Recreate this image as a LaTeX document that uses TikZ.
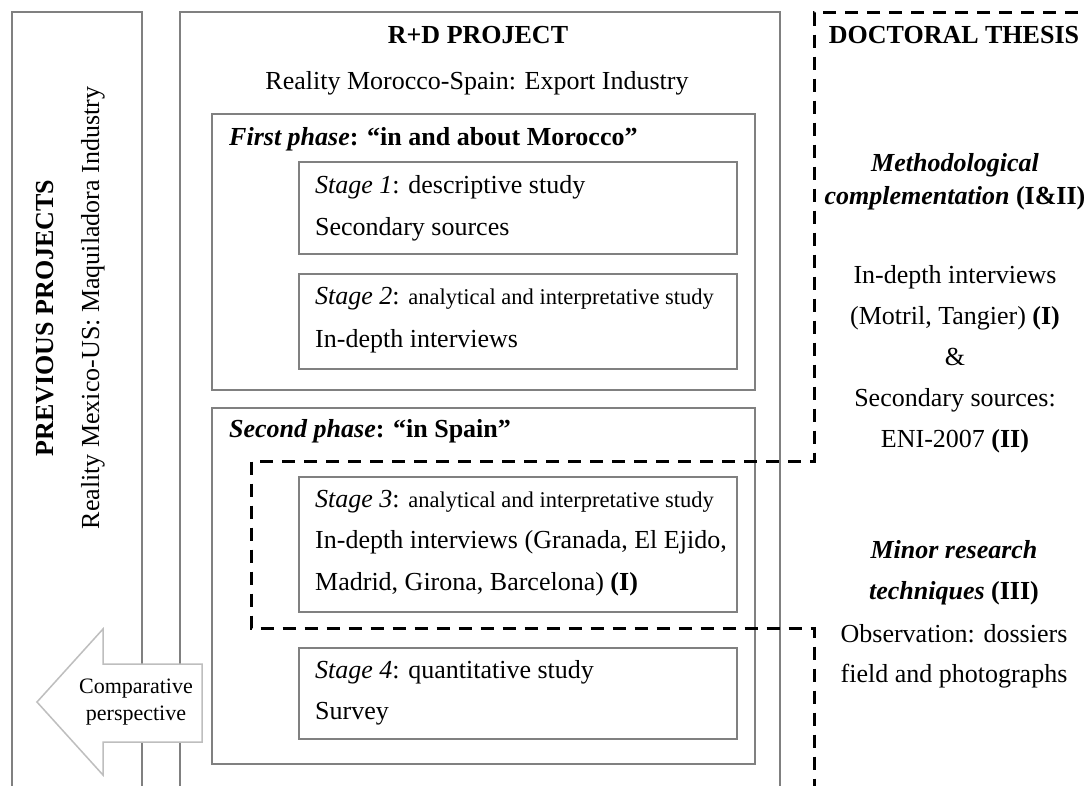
\documentclass[tikz,border=0pt]{standalone}
\usepackage{fontspec}
\setmainfont{Liberation Serif}
\definecolor{boxgray}{RGB}{128,128,128}
\definecolor{arrgray}{RGB}{190,190,190}
\newcommand{\fsmain}{\fontsize{26}{31}\selectfont}
\newcommand{\fssmall}{\fontsize{22.5}{27}\selectfont}
\begin{document}
\begin{tikzpicture}[x=1pt,y=-1pt,
  boxline/.style={draw=boxgray,line width=1.5pt,inner sep=0pt,outer sep=0pt,anchor=north west},
  dashline/.style={draw=black,line width=3pt,dash pattern=on 13pt off 9pt},
  lefttxt/.style={anchor=base west,inner sep=0pt,font=\fsmain},
  midtxt/.style={anchor=base,inner sep=0pt,font=\fsmain},
  smalltxt/.style={anchor=base,inner sep=0pt,font=\fontsize{22}{27}\selectfont,align=center}]
\clip (0,0) rectangle (1085,785);
\fill[white] (0,0) rectangle (1085,785);
% solid boxes
\node[boxline,minimum width=130pt,minimum height=800pt] (prevbox) at (12,12) {};
\node[boxline,minimum width=600pt,minimum height=800pt] (rdbox) at (180,12) {};
\node[boxline,minimum width=543pt,minimum height=276pt] (phaseone) at (212,114) {};
\node[boxline,minimum width=543pt,minimum height=356pt] (phasetwo) at (212,408) {};
\node[boxline,minimum width=438pt,minimum height=92pt] (stageone) at (299,162) {};
\node[boxline,minimum width=438pt,minimum height=95pt] (stagetwo) at (299,274) {};
\node[boxline,minimum width=438pt,minimum height=135pt] (stagethree) at (299,477) {};
\node[boxline,minimum width=438pt,minimum height=91pt] (stagefour) at (299,648) {};
% arrow
\draw[draw=arrgray,fill=white,line width=1.5pt,line join=miter]
  (202,664) -- (103,664) -- (103,629) -- (37,702) -- (103,775) -- (103,742) -- (202,742) -- cycle;
\node[smalltxt] (comp1) at (136,693) {Comparative};
\node[smalltxt] (comp2) at (136,720) {perspective};
% dashed outline
\draw[dashline] (1100,12.5) -- (814,12.5) -- (814,461) -- (251,461) -- (251,628) -- (814,628) -- (814,800);
% left column
\node[midtxt,rotate=90,font=\fsmain\bfseries] (prevtitle) at (53,318) {PREVIOUS PROJECTS};
\node[midtxt,rotate=90] (prevsub) at (99,308) {Reality Mexico-US: Maquiladora Industry};
% R+D
\node[midtxt,font=\fsmain\bfseries] (rdtitle) at (478,43) {R+D PROJECT};
\node[midtxt] (rdsub) at (477,89) {Reality Morocco-Spain: Export Industry};
\node[lefttxt] (p1title) at (229,145) {\textbf{\textit{First phase}: “in and about Morocco”}};
\node[lefttxt] (s1a) at (315,193) {\textit{Stage 1}: descriptive study};
\node[lefttxt] (s1b) at (315,235) {Secondary sources};
\node[lefttxt] (s2a) at (315,304) {\textit{Stage 2}: {\fssmall analytical and interpretative study}};
\node[lefttxt] (s2b) at (315,347) {In-depth interviews};
\node[lefttxt] (p2title) at (229,437) {\textbf{\textit{Second phase}: “in Spain”}};
\node[lefttxt] (s3a) at (315,507) {\textit{Stage 3}: {\fssmall analytical and interpretative study}};
\node[lefttxt] (s3b) at (315,548) {In-depth interviews (Granada, El Ejido,};
\node[lefttxt] (s3c) at (315,590) {Madrid, Girona, Barcelona) \textbf{(I)}};
\node[lefttxt] (s4a) at (315,678) {\textit{Stage 4}: quantitative study};
\node[lefttxt] (s4b) at (315,719) {Survey};
% right column
\node[midtxt,font=\fsmain\bfseries] (dttitle) at (954,43) {DOCTORAL THESIS};
\node[midtxt] (r1) at (955,171) {\textbf{\textit{Methodological}}};
\node[midtxt] (r2) at (955,204) {\textbf{\textit{complementation} (I\&II)}};
\node[midtxt] (r3) at (955,283) {In-depth interviews};
\node[midtxt] (r4) at (955,324) {(Motril, Tangier) \textbf{(I)}};
\node[midtxt] (r5) at (955,365) {\&};
\node[midtxt] (r6) at (955,406) {Secondary sources:};
\node[midtxt] (r7) at (955,447) {ENI-2007 \textbf{(II)}};
\node[midtxt] (r8) at (954,558) {\textbf{\textit{Minor research}}};
\node[midtxt] (r9) at (954,599) {\textbf{\textit{techniques} (III)}};
\node[midtxt] (r10) at (954,642) {Observation: dossiers};
\node[midtxt] (r11) at (954,682) {field and photographs};
\end{tikzpicture}
\end{document}
